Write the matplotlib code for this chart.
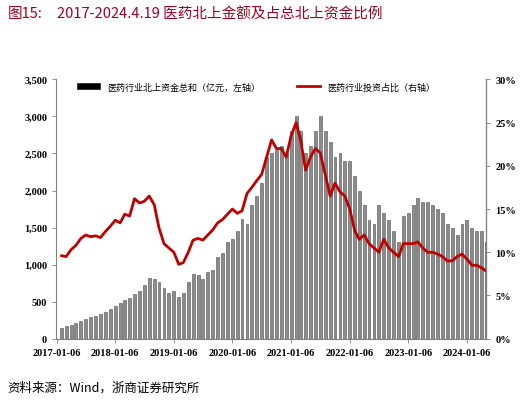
import numpy as np
import pandas as pd
import matplotlib
matplotlib.use('Agg')
import matplotlib.pyplot as plt
from matplotlib.ticker import FuncFormatter

plt.rcParams['font.family'] = ['Noto Sans CJK SC', 'DejaVu Sans']

months = pd.date_range('2017-01-06', periods=88, freq='MS') + pd.Timedelta(days=5)

# monthly readings
north_amount = [150, 170, 190, 210, 240, 270, 290, 300, 330, 360, 400, 440,
                480, 520, 550, 600, 650, 720, 820, 800, 760, 690, 620, 640,
                560, 620, 760, 870, 860, 800, 900, 930, 1100, 1150, 1300, 1340,
                1450, 1620, 1550, 1800, 1920, 2100, 2450, 2500, 2550, 2600, 2500, 2800,
                3000, 2800, 2500, 2600, 2800, 3000, 2800, 2650, 2450, 2500, 2400, 2400,
                2200, 2000, 1800, 1600, 1550, 1800, 1700, 1600, 1450, 1300, 1650, 1700,
                1800, 1900, 1850, 1850, 1800, 1750, 1700, 1550, 1500, 1400, 1550, 1600,
                1500, 1450, 1450, 1300]
share_pct = [9.6, 9.5, 10.3, 10.8, 11.6, 12.0, 11.8, 11.9, 11.7, 12.4, 13.0, 13.7,
             13.4, 14.4, 14.2, 16.2, 15.7, 15.9, 16.5, 15.5, 12.8, 11.0, 10.5, 10.0,
             8.6, 8.8, 10.0, 11.4, 11.6, 11.4, 12.0, 12.6, 13.4, 13.8, 14.4, 15.0,
             14.5, 14.8, 16.8, 17.5, 18.3, 19.0, 21.0, 23.0, 22.0, 22.0, 21.0, 23.5,
             25.0, 23.0, 19.5, 21.0, 22.0, 21.5, 19.0, 16.5, 18.0, 17.0, 16.5, 15.0,
             12.5, 11.5, 12.0, 11.0, 10.5, 10.0, 11.5, 10.5, 10.0, 9.5, 11.0, 11.0,
             11.0, 11.2, 10.5, 10.0, 10.0, 9.8, 9.5, 9.0, 9.0, 9.5, 9.8, 9.2,
             8.5, 8.5, 8.2, 7.8]
tick_labels = ['2017-01-06', '2018-01-06', '2019-01-06', '2020-01-06',
               '2021-01-06', '2022-01-06', '2023-01-06', '2024-01-06']

fig = plt.figure(figsize=(5.2, 4.02), dpi=100)
ax = fig.add_axes([0.108, 0.155, 0.827, 0.645])
ax2 = ax.twinx()

ax.bar(months, north_amount, width=18, color='#8c8c8c', edgecolor='#505050',
       linewidth=0.4, label='医药行业北上资金总和（亿元，左轴）')
ax2.plot(months, share_pct, color='#c00000', lw=2,
         label='医药行业投资占比（右轴）')

ax.set_ylim(0, 3500)
ax.set_yticks(np.arange(0, 3501, 500))
ax.yaxis.set_major_formatter(FuncFormatter(lambda v, p: f'{int(v):,}'))
ax2.set_ylim(0, 30)
ax2.set_yticks(np.arange(0, 31, 5))
ax2.yaxis.set_major_formatter(FuncFormatter(lambda v, p: f'{int(v)}%'))
ax.set_xlim(pd.Timestamp('2017-01-03'), pd.Timestamp('2024-05-05'))
ax.set_xticks(pd.to_datetime(tick_labels))
ax.set_xticklabels(tick_labels)

for a in (ax, ax2):
    for lab in a.get_xticklabels() + a.get_yticklabels():
        lab.set_family(['Liberation Serif', 'DejaVu Serif'])
        lab.set_weight('bold')
        lab.set_size(7.5)
    a.spines['top'].set_visible(False)
    a.tick_params(length=3, width=0.6, color='#808080')
ax.spines['left'].set_color('#808080')
ax.spines['bottom'].set_color('#808080')
ax2.spines['right'].set_color('#808080')
ax2.spines['left'].set_visible(False)
ax2.spines['bottom'].set_visible(False)

leg = ax.legend(loc='upper left', bbox_to_anchor=(0.03, 1.02), frameon=False,
                fontsize=6.5, handlelength=2.5)
for h in leg.legend_handles:
    h.set_color('black')
ax2.legend(loc='upper right', bbox_to_anchor=(0.9, 1.02), frameon=False,
           fontsize=6.5, handlelength=2.5)

fig.text(0.015, 0.965, '图15:', color='#a0001e', fontsize=10.5, va='center')
fig.text(0.11, 0.965, '2017-2024.4.19 医药北上金额及占总北上资金比例',
         color='#a0001e', fontsize=10.5, va='center')
fig.text(0.015, 0.035, '资料来源：Wind，浙商证券研究所', fontsize=9, va='center')

fig.savefig('out.png', dpi=100)
